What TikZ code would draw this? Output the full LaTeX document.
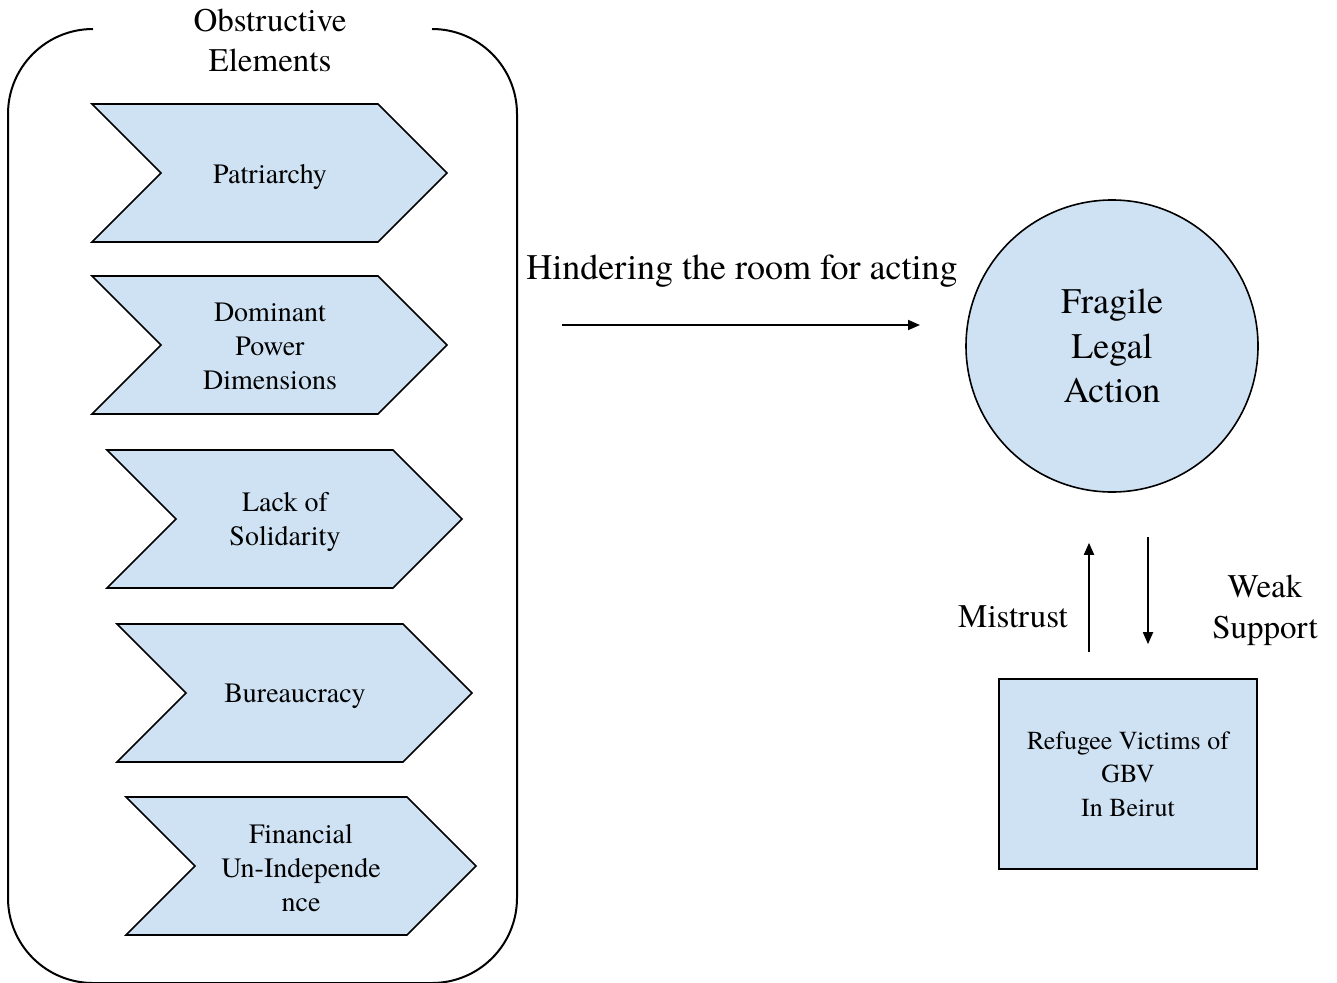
\documentclass[tikz,border=0pt]{standalone}
\usepackage{fontspec}
\setmainfont{TeX Gyre Termes}
\usetikzlibrary{arrows.meta}
\definecolor{paleblue}{HTML}{CFE2F3}

\tikzset{
  frame/.style={draw=black, line width=2pt},
  chev/.style={draw=black, fill=paleblue, line width=1.6pt, line join=miter},
  chevtext/.style={font=\fontsize{28}{34}\selectfont, align=center, inner sep=0pt},
  titletext/.style={font=\fontsize{33}{40}\selectfont, align=center, inner sep=0pt},
  labeltext/.style={font=\fontsize{33}{41}\selectfont, align=center, inner sep=0pt},
  bigtext/.style={font=\fontsize{36}{44}\selectfont, align=center, inner sep=0pt},
  conn/.style={draw=black, line width=1.8pt, -{Triangle[length=12pt,width=10pt]}},
  bubble/.style={circle, draw=black, fill=paleblue, line width=1.6pt, minimum size=292pt, inner sep=0pt,
    font=\fontsize{36}{44.5}\selectfont, align=center},
  groupbox/.style={draw=black, fill=paleblue, line width=1.6pt, minimum width=258pt, minimum height=190pt,
    inner sep=0pt, font=\fontsize{26}{33.5}\selectfont, align=center}
}

% chevron: left x, top y, body width (to the upper right corner), tip width
\newcommand\chevronpath[4]{%
  \path[chev] (#1,#2) -- (#1+#3,#2) -- (#1+#4,#2+69) -- (#1+#3,#2+138)
    -- (#1,#2+138) -- (#1+69,#2+69) -- cycle;}

\begin{document}
\begin{tikzpicture}[x=1pt,y=-1pt]
\useasboundingbox (0,0) rectangle (1337,982);

% container with a gap in its top edge for the title
\draw[frame, rounded corners=85pt] (93,29) -| (8,983) -| (517,29) -- (432,29);
\node[titletext] (title) at (270,40) {Obstructive\\Elements};

% obstructive elements
\chevronpath{92}{104}{286}{355}
\node[chevtext] (patr) at (270,177) {Patriarchy};
\chevronpath{92}{276}{286}{355}
\node[chevtext] (domp) at (270,346) {Dominant\\Power\\Dimensions};
\chevronpath{107}{450}{286}{355}
\node[chevtext] (lack) at (285,522) {Lack of\\Solidarity};
\chevronpath{117}{624}{286}{355}
\node[chevtext] (bur) at (295,696) {Bureaucracy};
\chevronpath{126}{797}{281}{350}
\node[chevtext] (fin) at (301,868) {Financial\\Un-Independe\\nce};

% main arrow
\node[bigtext] (hind) at (742,271) {Hindering the room for acting};
\coordinate (hs) at (562,325);
\coordinate (he) at (920,325);
\draw[conn] (hs) -- (he);

% outcome
\node[bubble] (fla) at (1112,346) {Fragile\\Legal\\Action};
\node[groupbox] (ref) at (1128,774) {Refugee Victims of\\GBV\\In Beirut};

% two-way relation
\coordinate (ms) at ([xshift=-39pt,yshift=26pt]ref.north);
\coordinate (me) at ([xshift=-23pt,yshift=-50pt]fla.south);
\coordinate (ws) at ([xshift=36pt,yshift=-44pt]fla.south);
\coordinate (we) at ([xshift=20pt,yshift=34pt]ref.north);
\draw[conn] (ms) -- (me);
\draw[conn] (ws) -- (we);
\node[labeltext] (mis) at (1013,617) {Mistrust};
\node[labeltext] (weak) at (1265,610) {Weak\\Support};
\end{tikzpicture}
\end{document}
